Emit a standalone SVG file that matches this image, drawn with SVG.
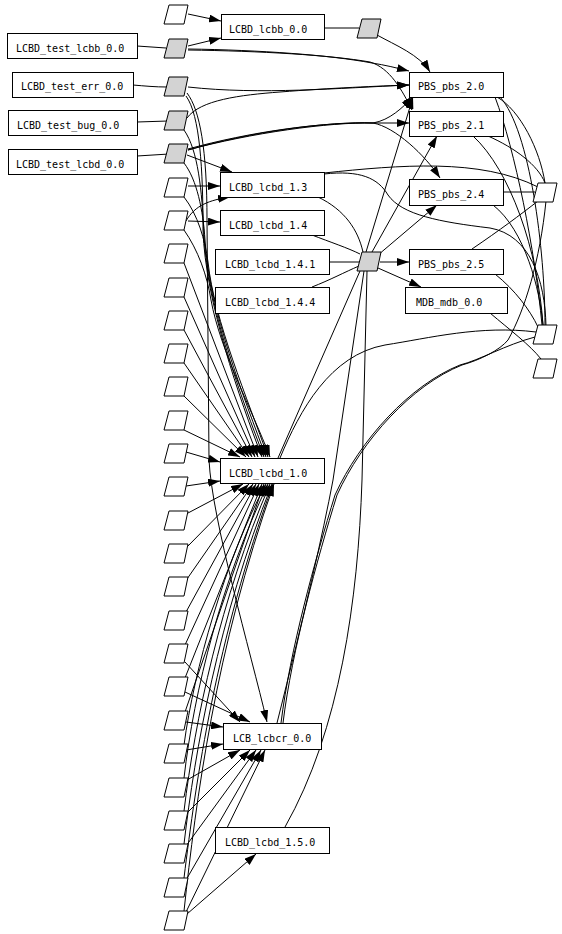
<svg xmlns="http://www.w3.org/2000/svg" xmlns:xlink="http://www.w3.org/1999/xlink" width="562" height="934" viewBox="0 0 562 934">
<style>
.n rect{fill:#fff;stroke:#000;stroke-width:1}
text{font-family:"DejaVu Sans Mono","Liberation Mono",monospace;font-size:10px;fill:#000}
.pw{fill:#fff;stroke:#000;stroke-width:1}
.pg{fill:#d3d3d3;stroke:#000;stroke-width:1}
#edges path{fill:none;stroke:#000;stroke-width:1}
#edges path.a{marker-end:url(#ah)}
</style>
<defs>
<marker id="ah" markerUnits="userSpaceOnUse" markerWidth="12" markerHeight="8" viewBox="0 0 12 8" refX="12" refY="4" orient="auto"><path d="M0,0 L12,4 L0,8 z" fill="#000"/></marker>
<polygon id="para" points="5,0 24,0 20,19 0,19"/>
</defs>
<rect width="562" height="934" fill="#fff"/>
<g id="edges">
<!-- box to parallelogram -->
<path d="M137,46 L166,48"/>
<path d="M133,85 C145,86 155,87 167,87"/>
<path d="M137,122 L168,121"/>
<path d="M137,156 L169,154"/>
<path d="M324,28 L359,28"/>
<path d="M318,197 C345,210 358,230 363,252"/>
<path d="M312,235 C330,242 348,248 360,254"/>
<path d="M329,262 L359,262"/>
<path d="M312,287 C330,280 345,272 359,266"/>
<path d="M278,458 L360,271"/>
<path d="M277,723 Q318,560 333,480 L364,271"/>
<path d="M285,827 C340,730 358,600 362,480 L367,271"/>
<path d="M324,173 C400,165 480,158 538,187"/>
<path d="M324,174 C360,170 378,178 388,195 C402,215 440,222 490,228 C530,235 545,280 546,326"/>
<path d="M280,458 C300,410 330,355 385,345 C430,338 480,325 536,332"/>
<path d="M281,723 C290,650 315,560 335,495 C360,440 410,385 460,365 C480,360 505,345 535,337"/>
<path d="M283,723 C292,650 317,560 337,495 C362,440 412,385 462,365 C480,360 500,350 508,340 C525,310 540,260 546,201"/>
<path d="M497,97 C520,110 540,150 545,183"/>
<path d="M500,97 C530,130 545,250 545,325"/>
<path d="M495,97 C515,150 535,250 542,325"/>
<path d="M488,136 C515,148 538,165 545,183"/>
<path d="M473,136 C510,170 538,250 543,325"/>
<path d="M503,192 L535,192"/>
<path d="M493,205 C525,230 540,290 543,325"/>
<path d="M472,249 C500,230 520,215 538,201"/>
<path d="M495,274 C515,290 530,310 538,327"/>
<path d="M490,313 C510,330 530,345 541,359"/>
<!-- parallelogram to box -->
<path class="a" d="M188,14 L221,21"/>
<path class="a" d="M188,46 L221,38"/>
<path class="a" d="M188,49 C260,50 330,55 372,63 C385,65 397,68 409,71"/>
<path class="a" d="M188,50 C260,51 330,55 370,62 C390,68 402,90 412,110"/>
<path class="a" d="M377,35 C395,45 420,55 430,72"/>
<path class="a" d="M188,87 C260,95 340,88 409,85"/>
<path class="a" d="M187,118 C200,100 240,95 280,92 C330,88 380,86 409,85"/>
<path class="a" d="M188,149 C250,132 320,122 373,123 L409,123"/>
<path class="a" d="M188,150 C250,132 330,121 373,123 C395,127 425,155 440,178"/>
<path class="a" d="M188,150 C250,133 330,122 373,123 C390,120 402,108 413,97"/>
<path class="a" d="M187,155 L232,172"/>
<path class="a" d="M188,186 L220,186"/>
<path class="a" d="M186,221 C195,205 210,200 230,197"/>
<path class="a" d="M188,221 L220,222"/>
<path class="a" d="M366,252 L413,97"/>
<path class="a" d="M372,252 L437,136"/>
<path class="a" d="M378,255 L437,205"/>
<path class="a" d="M380,262 L409,262"/>
<path class="a" d="M378,268 L421,287"/>
<!-- into LCBD_lcbd_1.0 top -->
<path class="a" d="M186,96 C200,115 203,170 203,230 C205,300 240,400 262,457"/>
<path class="a" d="M184,130 C198,150 202,190 204,235 C207,305 242,400 264,457"/>
<path class="a" d="M184,163 C197,180 203,210 205,240 C209,310 245,400 266,457"/>
<path class="a" d="M184,197 C198,215 205,240 208,262 C214,320 248,400 268,457"/>
<path class="a" d="M184,230 C198,250 207,275 211,300 C220,350 252,410 270,457"/>
<path class="a" d="M184,263 L258,457"/>
<path class="a" d="M184,297 L255,457"/>
<path class="a" d="M184,330 L252,457"/>
<path class="a" d="M184,363 L249,457"/>
<path class="a" d="M184,396 L246,457"/>
<path class="a" d="M184,430 L240,457"/>
<path class="a" d="M186,452 L220,462"/>
<path class="a" d="M186,486 L220,481"/>
<!-- into LCBD_lcbd_1.0 bottom -->
<path class="a" d="M188,513 L243,484"/>
<path class="a" d="M188,546 L249,484"/>
<path class="a" d="M187,579 L253,484"/>
<path class="a" d="M186,612 L256,484"/>
<path class="a" d="M185,645 L259,484"/>
<path class="a" d="M185,678 L262,484"/>
<path class="a" d="M185,712 L264,484"/>
<path class="a" d="M184,745 C194,670 225,560 266,484"/>
<path class="a" d="M184,778 C194,690 222,580 268,484"/>
<path class="a" d="M184,811 C195,720 220,600 270,484"/>
<path class="a" d="M184,844 C195,750 218,620 272,484"/>
<path class="a" d="M184,878 C196,780 216,640 273,484"/>
<path class="a" d="M184,911 C196,800 215,650 274,484"/>
<!-- into LCB_lcbcr_0.0 -->
<path class="a" d="M187,93 C200,110 207,150 207,220 L209,460 C212,520 250,650 267,722"/>
<path class="a" d="M185,662 L240,722"/>
<path class="a" d="M185,692 L250,722"/>
<path class="a" d="M186,722 L223,727"/>
<path class="a" d="M186,750 L223,744"/>
<path class="a" d="M187,780 L240,750"/>
<path class="a" d="M187,813 L250,750"/>
<path class="a" d="M186,846 L256,750"/>
<path class="a" d="M186,880 L261,750"/>
<path class="a" d="M186,912 L265,750"/>
<path class="a" d="M187,914 L256,854"/>
</g>
<g id="LCBD_test_lcbb_0.0" class="n"><rect x="7.5" y="33.5" width="130" height="25"/><text x="16" y="52">LCBD_test_lcbb_0.0</text></g>
<g id="LCBD_test_err_0.0" class="n"><rect x="12.5" y="72.5" width="121" height="25"/><text x="21" y="90">LCBD_test_err_0.0</text></g>
<g id="LCBD_test_bug_0.0" class="n"><rect x="8.5" y="110.5" width="129" height="25"/><text x="17" y="129">LCBD_test_bug_0.0</text></g>
<g id="LCBD_test_lcbd_0.0" class="n"><rect x="8.5" y="149.5" width="129" height="25"/><text x="16" y="168">LCBD_test_lcbd_0.0</text></g>
<g id="LCBD_lcbb_0.0" class="n"><rect x="221.5" y="14.5" width="103" height="25"/><text x="229" y="33">LCBD_lcbb_0.0</text></g>
<g id="LCBD_lcbd_1.3" class="n"><rect x="220.5" y="172.5" width="104" height="25"/><text x="229" y="191">LCBD_lcbd_1.3</text></g>
<g id="LCBD_lcbd_1.4" class="n"><rect x="220.5" y="210.5" width="104" height="25"/><text x="229" y="229">LCBD_lcbd_1.4</text></g>
<g id="LCBD_lcbd_1.4.1" class="n"><rect x="215.5" y="249.5" width="114" height="25"/><text x="225" y="268">LCBD_lcbd_1.4.1</text></g>
<g id="LCBD_lcbd_1.4.4" class="n"><rect x="215.5" y="287.5" width="114" height="26"/><text x="225" y="306">LCBD_lcbd_1.4.4</text></g>
<g id="LCBD_lcbd_1.0" class="n"><rect x="220.5" y="458.5" width="104" height="25"/><text x="229" y="477">LCBD_lcbd_1.0</text></g>
<g id="LCB_lcbcr_0.0" class="n"><rect x="223.5" y="723.5" width="98" height="26"/><text x="233" y="742">LCB_lcbcr_0.0</text></g>
<g id="LCBD_lcbd_1.5.0" class="n"><rect x="215.5" y="827.5" width="114" height="26"/><text x="225" y="846">LCBD_lcbd_1.5.0</text></g>
<g id="PBS_pbs_2.0" class="n"><rect x="409.5" y="72.5" width="94" height="25"/><text x="418" y="90">PBS_pbs_2.0</text></g>
<g id="PBS_pbs_2.1" class="n"><rect x="409.5" y="111.5" width="94" height="25"/><text x="418" y="129">PBS_pbs_2.1</text></g>
<g id="PBS_pbs_2.4" class="n"><rect x="409.5" y="179.5" width="94" height="26"/><text x="418" y="198">PBS_pbs_2.4</text></g>
<g id="PBS_pbs_2.5" class="n"><rect x="409.5" y="249.5" width="94" height="25"/><text x="418" y="268">PBS_pbs_2.5</text></g>
<g id="MDB_mdb_0.0" class="n"><rect x="405.5" y="287.5" width="102" height="26"/><text x="416" y="306">MDB_mdb_0.0</text></g>
<g id="p_lcbb"><use xlink:href="#para" href="#para" class="pg" x="357" y="19"/></g>
<g id="p_hub"><use xlink:href="#para" href="#para" class="pg" x="357" y="252"/></g>
<g id="p_r1"><use xlink:href="#para" href="#para" class="pw" x="533" y="183"/></g>
<g id="p_r2"><use xlink:href="#para" href="#para" class="pw" x="533" y="325"/></g>
<g id="p_r3"><use xlink:href="#para" href="#para" class="pw" x="533" y="359"/></g>
<g id="p1"><use xlink:href="#para" href="#para" class="pw" x="164" y="5"/></g>
<g id="p2"><use xlink:href="#para" href="#para" class="pg" x="164" y="39"/></g>
<g id="p3"><use xlink:href="#para" href="#para" class="pg" x="164" y="77"/></g>
<g id="p4"><use xlink:href="#para" href="#para" class="pg" x="164" y="111"/></g>
<g id="p5"><use xlink:href="#para" href="#para" class="pg" x="164" y="144"/></g>
<g id="p6"><use xlink:href="#para" href="#para" class="pw" x="164" y="178"/></g>
<g id="p7"><use xlink:href="#para" href="#para" class="pw" x="164" y="211"/></g>
<g id="p8"><use xlink:href="#para" href="#para" class="pw" x="164" y="244"/></g>
<g id="p9"><use xlink:href="#para" href="#para" class="pw" x="164" y="278"/></g>
<g id="p10"><use xlink:href="#para" href="#para" class="pw" x="164" y="311"/></g>
<g id="p11"><use xlink:href="#para" href="#para" class="pw" x="164" y="344"/></g>
<g id="p12"><use xlink:href="#para" href="#para" class="pw" x="164" y="377"/></g>
<g id="p13"><use xlink:href="#para" href="#para" class="pw" x="164" y="411"/></g>
<g id="p14"><use xlink:href="#para" href="#para" class="pw" x="164" y="444"/></g>
<g id="p15"><use xlink:href="#para" href="#para" class="pw" x="164" y="477"/></g>
<g id="p16"><use xlink:href="#para" href="#para" class="pw" x="164" y="511"/></g>
<g id="p17"><use xlink:href="#para" href="#para" class="pw" x="164" y="544"/></g>
<g id="p18"><use xlink:href="#para" href="#para" class="pw" x="164" y="577"/></g>
<g id="p19"><use xlink:href="#para" href="#para" class="pw" x="164" y="611"/></g>
<g id="p20"><use xlink:href="#para" href="#para" class="pw" x="164" y="644"/></g>
<g id="p21"><use xlink:href="#para" href="#para" class="pw" x="164" y="677"/></g>
<g id="p22"><use xlink:href="#para" href="#para" class="pw" x="164" y="711"/></g>
<g id="p23"><use xlink:href="#para" href="#para" class="pw" x="164" y="744"/></g>
<g id="p24"><use xlink:href="#para" href="#para" class="pw" x="164" y="778"/></g>
<g id="p25"><use xlink:href="#para" href="#para" class="pw" x="164" y="811"/></g>
<g id="p26"><use xlink:href="#para" href="#para" class="pw" x="164" y="844"/></g>
<g id="p27"><use xlink:href="#para" href="#para" class="pw" x="164" y="878"/></g>
<g id="p28"><use xlink:href="#para" href="#para" class="pw" x="164" y="911"/></g>
</svg>
